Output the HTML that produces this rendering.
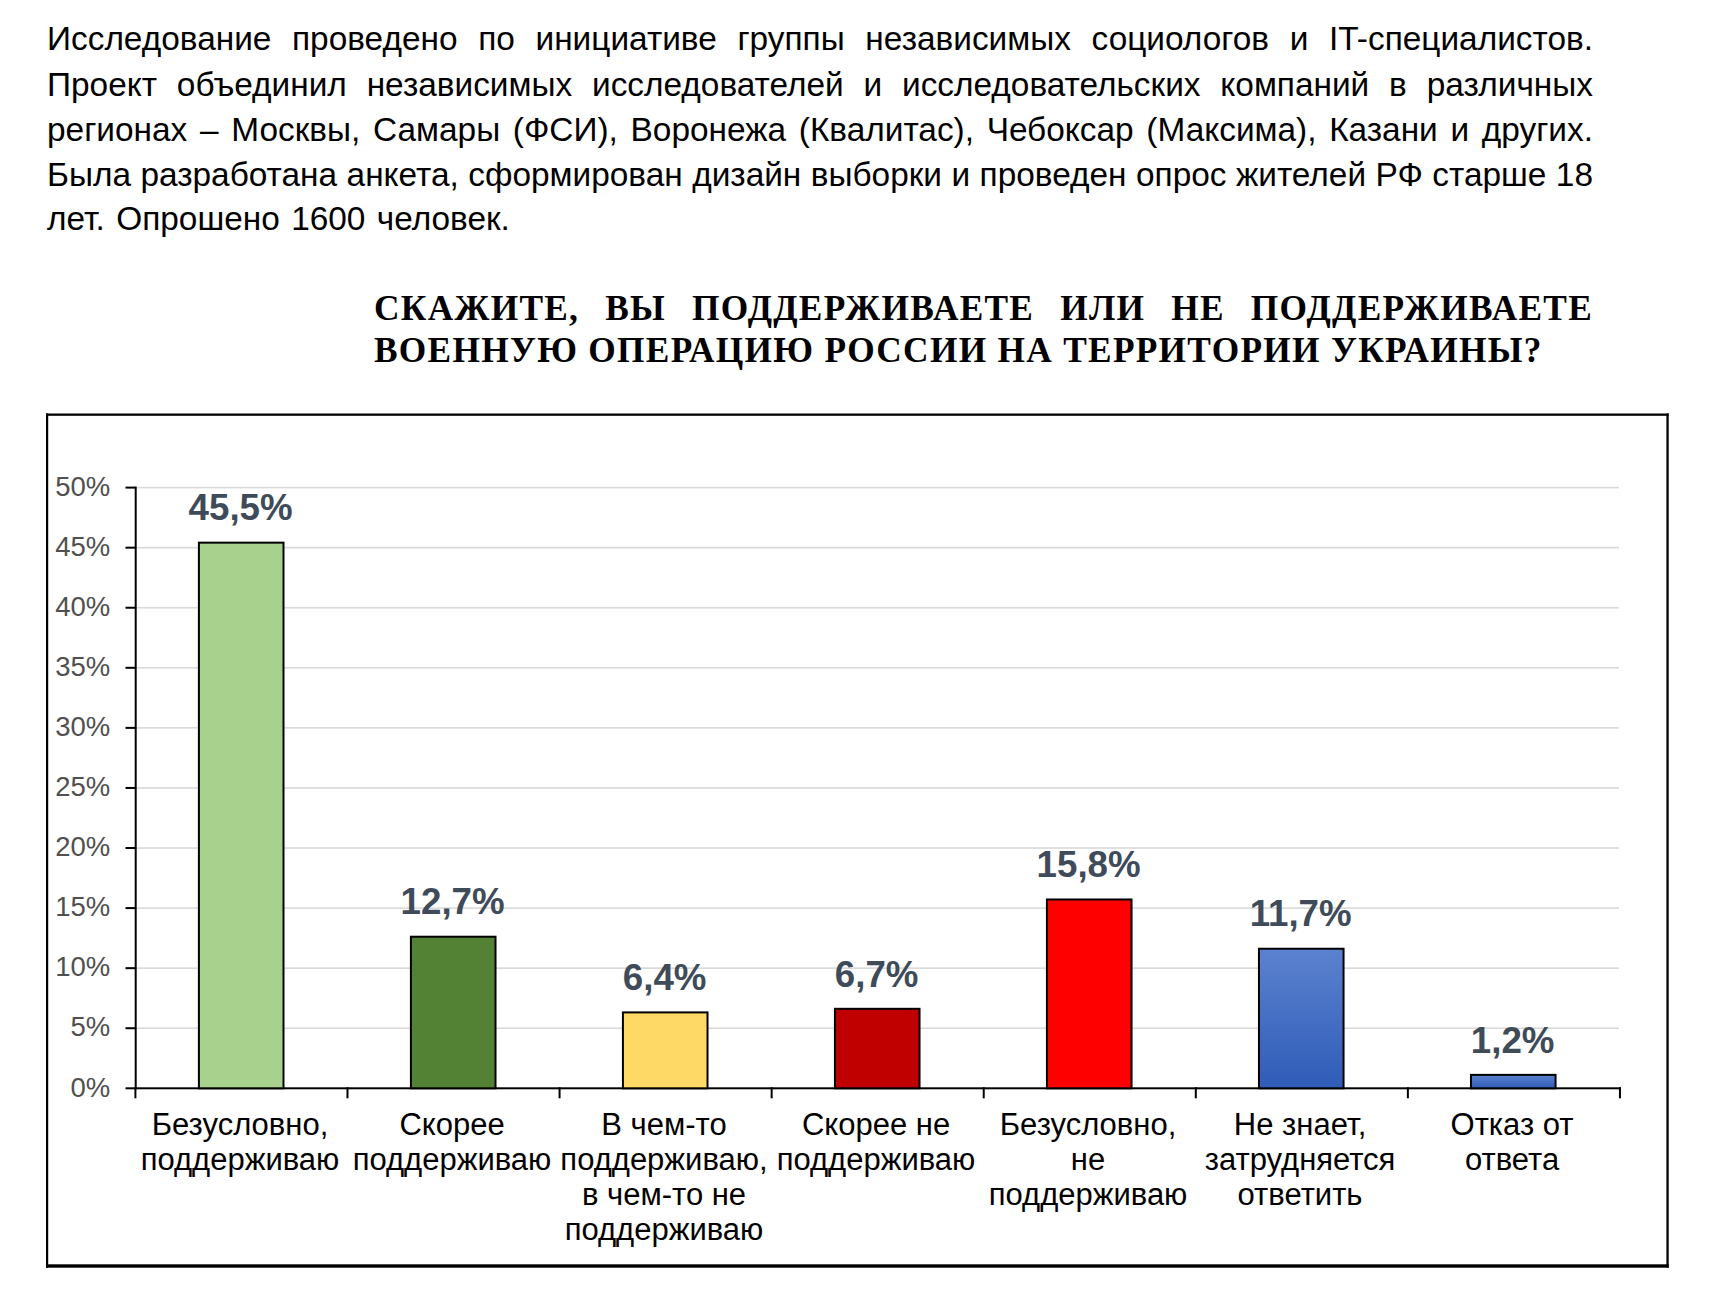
<!DOCTYPE html>
<html><head><meta charset="utf-8"><style>
html,body{margin:0;padding:0;background:#fff;width:1732px;height:1293px;overflow:hidden;position:relative}
.pl{position:absolute;white-space:nowrap;font-family:"Liberation Sans",sans-serif;color:#000;text-align:justify;text-align-last:justify;line-height:40px;height:40px}
.hl{position:absolute;white-space:nowrap;font-family:"Liberation Serif",serif;font-weight:bold;color:#000;text-align:justify;text-align-last:justify;line-height:40px;height:40px}
svg{position:absolute;left:0;top:0}
</style></head><body>

<div class="pl" style="left:47px;top:18.93px;width:1546px;font-size:33.4px;">Исследование проведено по инициативе группы независимых социологов и IT-специалистов.</div>
<div class="pl" style="left:47px;top:65.03px;width:1546px;font-size:33.4px;">Проект объединил независимых исследователей и исследовательских компаний в различных</div>
<div class="pl" style="left:47px;top:109.93px;width:1546px;font-size:33.4px;">регионах – Москвы, Самары (ФСИ), Воронежа (Квалитас), Чебоксар (Максима), Казани и других.</div>
<div class="pl" style="left:47px;top:155.13px;width:1546px;font-size:33.4px;">Была разработана анкета, сформирован дизайн выборки и проведен опрос жителей РФ старше 18</div>
<div class="pl" style="left:47px;top:199.43px;width:1546px;font-size:33.4px;text-align-last:left;word-spacing:2.1px;">лет. Опрошено 1600 человек.</div>
<div class="hl" style="left:374px;top:289.29px;width:1219px;font-size:35.3px;letter-spacing:1.3px;">СКАЖИТЕ, ВЫ ПОДДЕРЖИВАЕТЕ ИЛИ НЕ ПОДДЕРЖИВАЕТЕ</div>
<div class="hl" style="left:374px;top:331.29px;width:1219px;font-size:35.3px;letter-spacing:1.3px;text-align-last:left;">ВОЕННУЮ ОПЕРАЦИЮ РОССИИ НА ТЕРРИТОРИИ УКРАИНЫ?</div>
<svg width="1732" height="1293" viewBox="0 0 1732 1293">
<defs><linearGradient id="gb" x1="0" y1="0" x2="0" y2="1"><stop offset="0" stop-color="#5b82cf"/><stop offset="1" stop-color="#2f5cb8"/></linearGradient></defs>
<rect x="46" y="413.5" width="1622.7" height="2.3" fill="#000"/>
<rect x="46" y="413.5" width="2.2" height="854.2" fill="#000"/>
<rect x="1666.4" y="413.5" width="2.3" height="854.2" fill="#000"/>
<rect x="46" y="1264.3" width="1622.7" height="3.4" fill="#000"/>
<rect x="135.4" y="1027.43" width="1483.60" height="1.6" fill="#d9d9d9"/>
<rect x="135.4" y="967.36" width="1483.60" height="1.6" fill="#d9d9d9"/>
<rect x="135.4" y="907.29" width="1483.60" height="1.6" fill="#d9d9d9"/>
<rect x="135.4" y="847.22" width="1483.60" height="1.6" fill="#d9d9d9"/>
<rect x="135.4" y="787.15" width="1483.60" height="1.6" fill="#d9d9d9"/>
<rect x="135.4" y="727.08" width="1483.60" height="1.6" fill="#d9d9d9"/>
<rect x="135.4" y="667.01" width="1483.60" height="1.6" fill="#d9d9d9"/>
<rect x="135.4" y="606.94" width="1483.60" height="1.6" fill="#d9d9d9"/>
<rect x="135.4" y="546.87" width="1483.60" height="1.6" fill="#d9d9d9"/>
<rect x="135.4" y="486.80" width="1483.60" height="1.6" fill="#d9d9d9"/>
<rect x="134.7" y="486.60" width="2" height="602.70" fill="#000"/>
<rect x="125.5" y="1087.30" width="10" height="2" fill="#000"/>
<text x="110.2" y="1096.50" text-anchor="end" font-family="Liberation Sans" font-size="27.5" fill="#505050">0%</text>
<rect x="125.5" y="1027.23" width="10" height="2" fill="#000"/>
<text x="110.2" y="1036.43" text-anchor="end" font-family="Liberation Sans" font-size="27.5" fill="#505050">5%</text>
<rect x="125.5" y="967.16" width="10" height="2" fill="#000"/>
<text x="110.2" y="976.36" text-anchor="end" font-family="Liberation Sans" font-size="27.5" fill="#505050">10%</text>
<rect x="125.5" y="907.09" width="10" height="2" fill="#000"/>
<text x="110.2" y="916.29" text-anchor="end" font-family="Liberation Sans" font-size="27.5" fill="#505050">15%</text>
<rect x="125.5" y="847.02" width="10" height="2" fill="#000"/>
<text x="110.2" y="856.22" text-anchor="end" font-family="Liberation Sans" font-size="27.5" fill="#505050">20%</text>
<rect x="125.5" y="786.95" width="10" height="2" fill="#000"/>
<text x="110.2" y="796.15" text-anchor="end" font-family="Liberation Sans" font-size="27.5" fill="#505050">25%</text>
<rect x="125.5" y="726.88" width="10" height="2" fill="#000"/>
<text x="110.2" y="736.08" text-anchor="end" font-family="Liberation Sans" font-size="27.5" fill="#505050">30%</text>
<rect x="125.5" y="666.81" width="10" height="2" fill="#000"/>
<text x="110.2" y="676.01" text-anchor="end" font-family="Liberation Sans" font-size="27.5" fill="#505050">35%</text>
<rect x="125.5" y="606.74" width="10" height="2" fill="#000"/>
<text x="110.2" y="615.94" text-anchor="end" font-family="Liberation Sans" font-size="27.5" fill="#505050">40%</text>
<rect x="125.5" y="546.67" width="10" height="2" fill="#000"/>
<text x="110.2" y="555.87" text-anchor="end" font-family="Liberation Sans" font-size="27.5" fill="#505050">45%</text>
<rect x="125.5" y="486.60" width="10" height="2" fill="#000"/>
<text x="110.2" y="495.80" text-anchor="end" font-family="Liberation Sans" font-size="27.5" fill="#505050">50%</text>
<rect x="134.7" y="1087.30" width="1486.26" height="2" fill="#000"/>
<rect x="134.40" y="1087.30" width="2" height="11" fill="#000"/>
<rect x="346.48" y="1087.30" width="2" height="11" fill="#000"/>
<rect x="558.56" y="1087.30" width="2" height="11" fill="#000"/>
<rect x="770.64" y="1087.30" width="2" height="11" fill="#000"/>
<rect x="982.72" y="1087.30" width="2" height="11" fill="#000"/>
<rect x="1194.80" y="1087.30" width="2" height="11" fill="#000"/>
<rect x="1406.88" y="1087.30" width="2" height="11" fill="#000"/>
<rect x="1618.96" y="1087.30" width="2" height="11" fill="#000"/>
<rect x="198.90" y="542.66" width="84.6" height="545.64" fill="#a9d18e" stroke="#000" stroke-width="2"/>
<text x="240.60" y="520.36" text-anchor="middle" font-family="Liberation Sans" font-weight="bold" font-size="36.7" fill="#404b5a">45,5%</text>
<rect x="410.91" y="936.72" width="84.6" height="151.58" fill="#548235" stroke="#000" stroke-width="2"/>
<text x="452.61" y="914.42" text-anchor="middle" font-family="Liberation Sans" font-weight="bold" font-size="36.7" fill="#404b5a">12,7%</text>
<rect x="622.92" y="1012.41" width="84.6" height="75.89" fill="#ffd966" stroke="#000" stroke-width="2"/>
<text x="664.62" y="990.11" text-anchor="middle" font-family="Liberation Sans" font-weight="bold" font-size="36.7" fill="#404b5a">6,4%</text>
<rect x="834.93" y="1008.81" width="84.6" height="79.49" fill="#c00000" stroke="#000" stroke-width="2"/>
<text x="876.63" y="986.51" text-anchor="middle" font-family="Liberation Sans" font-weight="bold" font-size="36.7" fill="#404b5a">6,7%</text>
<rect x="1046.94" y="899.48" width="84.6" height="188.82" fill="#ff0000" stroke="#000" stroke-width="2"/>
<text x="1088.64" y="877.18" text-anchor="middle" font-family="Liberation Sans" font-weight="bold" font-size="36.7" fill="#404b5a">15,8%</text>
<rect x="1258.95" y="948.74" width="84.6" height="139.56" fill="url(#gb)" stroke="#000" stroke-width="2"/>
<text x="1300.65" y="926.44" text-anchor="middle" font-family="Liberation Sans" font-weight="bold" font-size="36.7" fill="#404b5a">11,7%</text>
<rect x="1470.96" y="1074.88" width="84.6" height="13.42" fill="url(#gb)" stroke="#000" stroke-width="2"/>
<text x="1512.66" y="1052.58" text-anchor="middle" font-family="Liberation Sans" font-weight="bold" font-size="36.7" fill="#404b5a">1,2%</text>
<text x="240.00" y="1135.20" text-anchor="middle" font-family="Liberation Sans" font-size="31" fill="#000">Безусловно,</text>
<text x="240.00" y="1170.05" text-anchor="middle" font-family="Liberation Sans" font-size="31" fill="#000">поддерживаю</text>
<text x="452.01" y="1135.20" text-anchor="middle" font-family="Liberation Sans" font-size="31" fill="#000">Скорее</text>
<text x="452.01" y="1170.05" text-anchor="middle" font-family="Liberation Sans" font-size="31" fill="#000">поддерживаю</text>
<text x="664.02" y="1135.20" text-anchor="middle" font-family="Liberation Sans" font-size="31" fill="#000">В чем-то</text>
<text x="664.02" y="1170.05" text-anchor="middle" font-family="Liberation Sans" font-size="31" fill="#000">поддерживаю,</text>
<text x="664.02" y="1204.90" text-anchor="middle" font-family="Liberation Sans" font-size="31" fill="#000">в чем-то не</text>
<text x="664.02" y="1239.75" text-anchor="middle" font-family="Liberation Sans" font-size="31" fill="#000">поддерживаю</text>
<text x="876.03" y="1135.20" text-anchor="middle" font-family="Liberation Sans" font-size="31" fill="#000">Скорее не</text>
<text x="876.03" y="1170.05" text-anchor="middle" font-family="Liberation Sans" font-size="31" fill="#000">поддерживаю</text>
<text x="1088.04" y="1135.20" text-anchor="middle" font-family="Liberation Sans" font-size="31" fill="#000">Безусловно,</text>
<text x="1088.04" y="1170.05" text-anchor="middle" font-family="Liberation Sans" font-size="31" fill="#000">не</text>
<text x="1088.04" y="1204.90" text-anchor="middle" font-family="Liberation Sans" font-size="31" fill="#000">поддерживаю</text>
<text x="1300.05" y="1135.20" text-anchor="middle" font-family="Liberation Sans" font-size="31" fill="#000">Не знает,</text>
<text x="1300.05" y="1170.05" text-anchor="middle" font-family="Liberation Sans" font-size="31" fill="#000">затрудняется</text>
<text x="1300.05" y="1204.90" text-anchor="middle" font-family="Liberation Sans" font-size="31" fill="#000">ответить</text>
<text x="1512.06" y="1135.20" text-anchor="middle" font-family="Liberation Sans" font-size="31" fill="#000">Отказ от</text>
<text x="1512.06" y="1170.05" text-anchor="middle" font-family="Liberation Sans" font-size="31" fill="#000">ответа</text>
</svg>
</body></html>
